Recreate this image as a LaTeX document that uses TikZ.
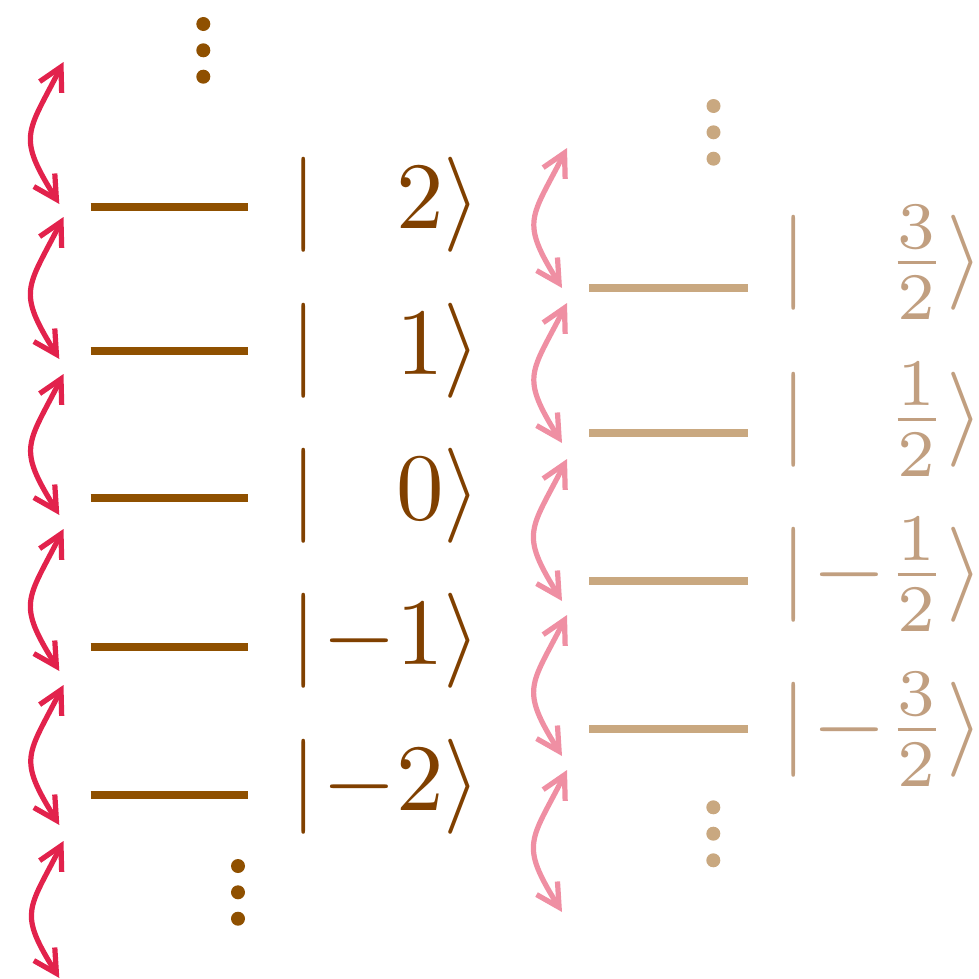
\documentclass[tikz,border=0pt]{standalone}
\usetikzlibrary{arrows.meta}
\definecolor{dbrown}{RGB}{143,80,0}
\definecolor{dbrowntxt}{RGB}{128,64,0}
\definecolor{ltan}{RGB}{201,168,128}
\definecolor{ltantxt}{RGB}{193,159,128}
\definecolor{cred}{RGB}{226,34,76}
\definecolor{cpink}{RGB}{239,143,163}
\begin{document}
\begin{tikzpicture}[x=0.10526pt,y=0.10526pt,
  lvl/.style={line width=0.84pt},
  trans/.style={line width=0.55pt,
    {Straight Barb[length=2.4pt,width=2.6pt]}-{Straight Barb[length=2.4pt,width=2.6pt]}},
  wavy/.style={out=122,in=243,looseness=1.45},
  ket/.style={inner sep=0pt,anchor=base west},
  ddot/.style={radius=7}]
\useasboundingbox (0,0) rectangle (979,-979);

% ---- left ladder (integer states)
\foreach \y in {207,351,498,647,795}
  \draw[lvl,dbrown] (90.7,-\y) -- (248,-\y);
\begin{scope}[dbrowntxt]
\node[ket] (k2)  at (288.8,-228.25) {$|\mkern1mu\phantom{-}2\rangle$};
\node[ket] (k1)  at (288.8,-374.25) {$|\mkern1mu\phantom{-}1\rangle$};
\node[ket] (k0)  at (288.8,-519.25) {$|\mkern1mu\phantom{-}0\rangle$};
\node[ket] (km1) at (288.8,-664.25) {$|\mkern1mu{-1}\rangle$};
\node[ket] (km2) at (288.8,-810.75) {$|\mkern1mu{-2}\rangle$};
\end{scope}
\foreach \y in {24,50.3,76.7}
  \fill[dbrown] (203.3,-\y) circle[ddot];
\foreach \y in {866,892.3,918.7}
  \fill[dbrown] (238,-\y) circle[ddot];

% left transitions
\foreach \b/\t [count=\i] in {204/62,359/217,515/374,671/529,825/685,978/841}{
  \coordinate (lb\i) at (59.3,-\b);
  \coordinate (lt\i) at (63.5,-\t);
  \draw[trans,cred] (lb\i) to[wavy] (lt\i);
}

% ---- right ladder (half-integer states)
\foreach \y in {288,433,581,729}
  \draw[lvl,ltan] (589,-\y) -- (748,-\y);
\begin{scope}[ltantxt]
\node[ket] (h3)  at (778.8,-286.25) {$|\mkern1mu\phantom{-}{\frac{3}{2}}\rangle$};
\node[ket] (h1)  at (778.8,-443.25) {$|\mkern1mu\phantom{-}{\frac{1}{2}}\rangle$};
\node[ket] (hm1) at (778.8,-598.25) {$|\mkern1mu{-{\frac{1}{2}}}\rangle$};
\node[ket] (hm3) at (778.8,-753.25) {$|\mkern1mu{-{\frac{3}{2}}}\rangle$};
\end{scope}
\foreach \y in {106,132.3,158.7}
  \fill[ltan] (713.5,-\y) circle[ddot];
\foreach \y in {807.3,833.7,860.3}
  \fill[ltan] (713.3,-\y) circle[ddot];

% right transitions
\foreach \b/\t [count=\i] in {288/148,443/303,601/459,756/615,912/770}{
  \coordinate (rb\i) at (562,-\b);
  \coordinate (rt\i) at (567,-\t);
  \draw[trans,cpink] (rb\i) to[wavy] (rt\i);
}
\end{tikzpicture}
\end{document}
